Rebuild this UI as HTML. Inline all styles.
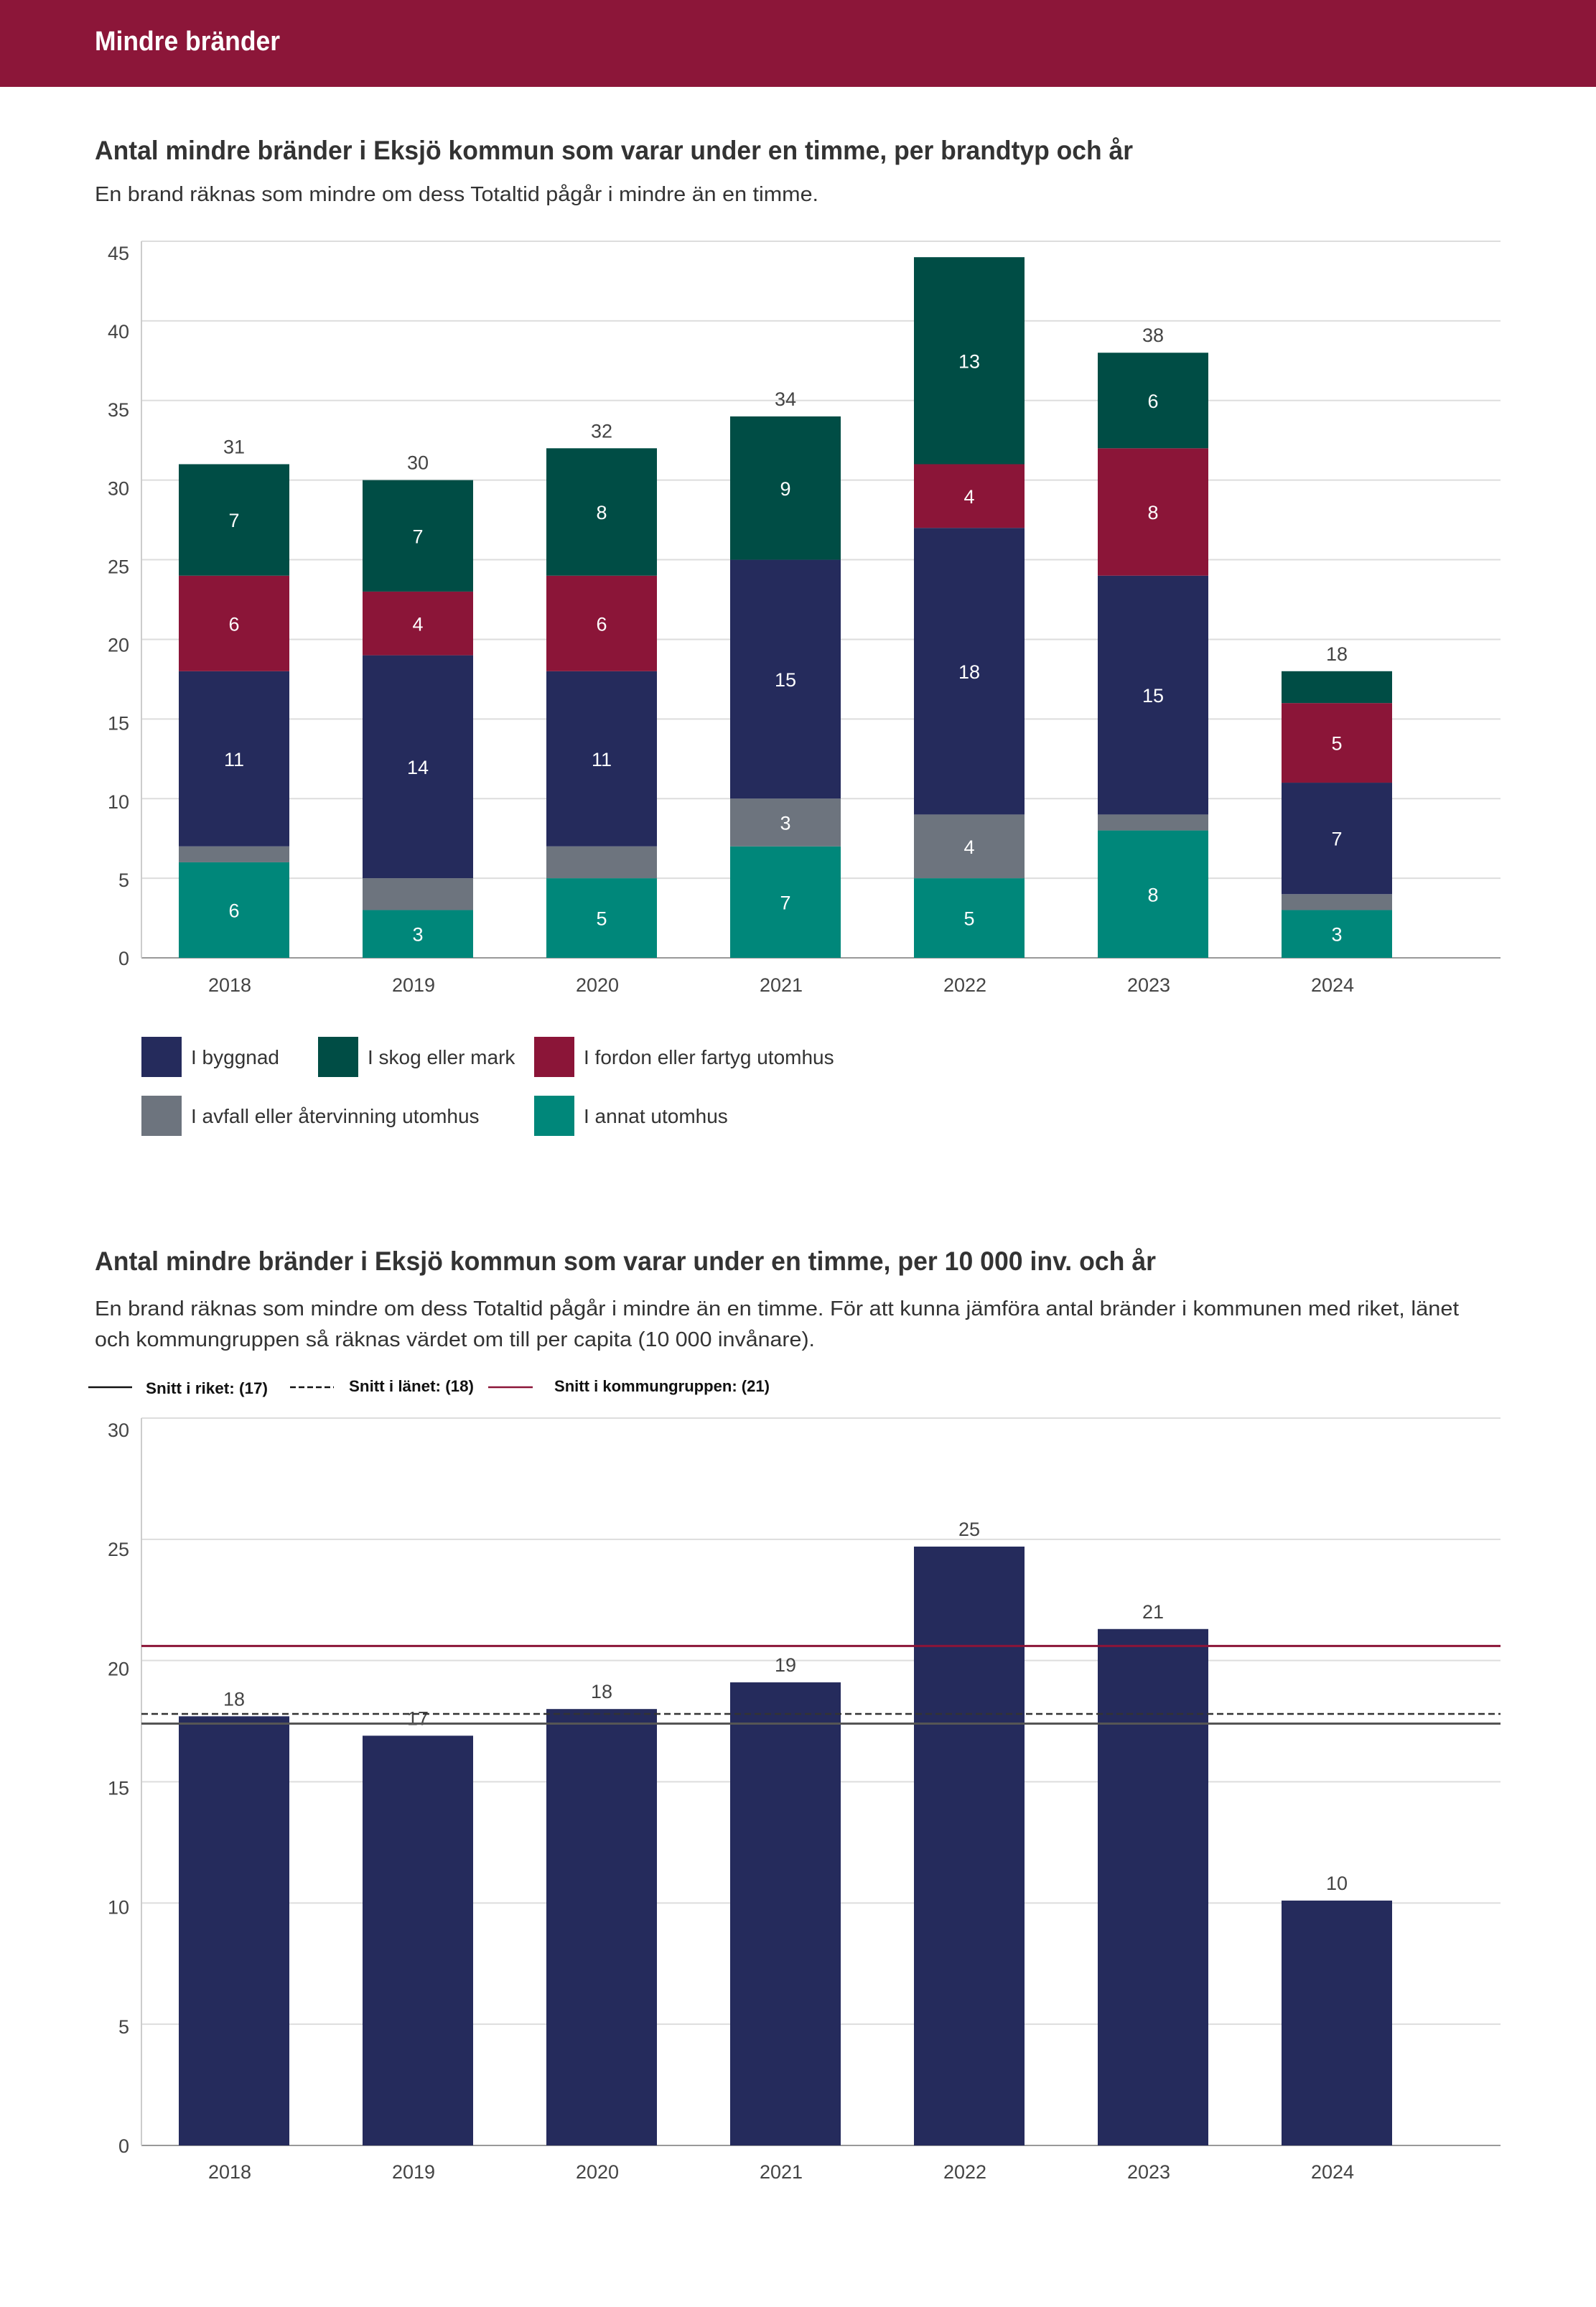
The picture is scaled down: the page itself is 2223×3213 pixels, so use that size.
<!DOCTYPE html>
<html><head><meta charset="utf-8">
<style>
html,body{margin:0;padding:0;background:#fff;}
svg{display:block;font-family:"Liberation Sans",sans-serif;}
</style></head>
<body>
<svg id="page" width="2223" height="3213" viewBox="0 0 2223 3213" xmlns="http://www.w3.org/2000/svg">
  <rect x="0" y="0" width="2223" height="121" fill="#8c1639"/>
  <text x="132" y="70" font-size="38" font-weight="bold" fill="#fff" textLength="258" lengthAdjust="spacingAndGlyphs">Mindre bränder</text>

  <text x="132" y="222" font-size="37" fill="#333" font-weight="bold" textLength="1446" lengthAdjust="spacingAndGlyphs">Antal mindre bränder i Eksjö kommun som varar under en timme, per brandtyp och år</text>
  <text x="132" y="280" font-size="29" fill="#333" textLength="1008" lengthAdjust="spacingAndGlyphs">En brand räknas som mindre om dess Totaltid pågår i mindre än en timme.</text>
  <g id="chart1"></g>
  <g id="legend1"></g>

  <text x="132" y="1769" font-size="37" fill="#333" font-weight="bold" textLength="1478" lengthAdjust="spacingAndGlyphs">Antal mindre bränder i Eksjö kommun som varar under en timme, per 10 000 inv. och år</text>
  <text x="132" y="1832" font-size="29" fill="#333" textLength="1900" lengthAdjust="spacingAndGlyphs">En brand räknas som mindre om dess Totaltid pågår i mindre än en timme. För att kunna jämföra antal bränder i kommunen med riket, länet</text>
  <text x="132" y="1875" font-size="29" fill="#333" textLength="1003" lengthAdjust="spacingAndGlyphs">och kommungruppen så räknas värdet om till per capita (10 000 invånare).</text>
  <g>
    <line x1="123" y1="1932" x2="184" y2="1932" stroke="#111" stroke-width="2.5"/>
    <text x="203" y="1941" font-size="22" font-weight="bold" fill="#111" textLength="170" lengthAdjust="spacingAndGlyphs">Snitt i riket: (17)</text>
    <line x1="404" y1="1932" x2="465" y2="1932" stroke="#111" stroke-width="2.5" stroke-dasharray="8,4"/>
    <text x="486" y="1938" font-size="22" font-weight="bold" fill="#111" textLength="174" lengthAdjust="spacingAndGlyphs">Snitt i länet: (18)</text>
    <line x1="680" y1="1932" x2="742" y2="1932" stroke="#8b1538" stroke-width="2.5"/>
    <text x="772" y="1938" font-size="22" font-weight="bold" fill="#111" textLength="300" lengthAdjust="spacingAndGlyphs">Snitt i kommungruppen: (21)</text>
  </g>
  <g id="chart2"></g>
</svg>
<script>
const NS = "http://www.w3.org/2000/svg";
const years = ["2018","2019","2020","2021","2022","2023","2024"];
const annat = [6,3,5,7,5,8,3];
const avfall = [1,2,2,3,4,1,1];
const byggnad = [11,14,11,15,18,15,7];
const fordon = [6,4,6,0,4,8,5];
const skog = [7,7,8,9,13,6,2];
const ticks1 = [0,5,10,15,20,25,30,35,40,45];
const perCapita = [17.7,16.9,18.0,19.1,24.7,21.3,10.1];
const perCapitaLabels = ["18","17","18","19","25","21","10"];
const ticks2 = [0,5,10,15,20,25,30];
const snittRiket = 17.4;
const snittLanet = 17.8;
const snittKommungrupp = 20.6;

function mk(tag, attrs, parent){
  const e = document.createElementNS(NS, tag);
  for (const k in attrs) e.setAttribute(k, attrs[k]);
  parent.appendChild(e);
  return e;
}
const X0 = 197, X1 = 2090, BAND = 256, BW = 154;
function xc(i){ return X0 + 129 + i*BAND; }

// Chart 1
const c1 = document.getElementById('chart1');
const Y0a = 1334, Ytop = 336, MAXa = 45;
function ya(v){ return Y0a - v*(Y0a-Ytop)/MAXa; }
ticks1.forEach(t=>{
  const l = mk('line',{x1:X0,x2:X1,y1:ya(t),y2:ya(t),stroke:t===0?'#999':'#ddd','stroke-width':2},c1);
  
  
  const tx = mk('text',{x:180,y:ya(t)+10+16*t/MAXa,'font-size':27,fill:'#444','text-anchor':'end'},c1);
  
  
  tx.textContent = t;
});
const ax1 = mk('line',{x1:X0,x2:X0,y1:Ytop,y2:Y0a,stroke:'#ccc','stroke-width':2},c1);


const series = [
  {name:'annat',vals:annat,color:'#00877a'},
  {name:'avfall',vals:avfall,color:'#6d747e'},
  {name:'byggnad',vals:byggnad,color:'#252b5c'},
  {name:'fordon',vals:fordon,color:'#8b1538'},
  {name:'skog',vals:skog,color:'#004d45'}
];
years.forEach((yr,i)=>{
  let base = 0;
  series.forEach(s=>{
    const v = s.vals[i];
    if (v>0){
      const r = mk('rect',{x:xc(i)-BW/2,y:ya(base+v),width:BW,height:ya(base)-ya(base+v),fill:s.color},c1);
      
      
      if (v>=3){
        const t = mk('text',{x:xc(i),y:ya(base+v/2)+10,'font-size':27,fill:'#fff','text-anchor':'middle'},c1);
        
        
        t.textContent = v;
      }
    }
    base += v;
  });
  if (ya(base)-40 > Ytop){
    const t = mk('text',{x:xc(i),y:ya(base)-15,'font-size':27,fill:'#444','text-anchor':'middle'},c1);
    
    
    t.textContent = base;
  }
  const xl = mk('text',{x:xc(i)-6,y:1381,'font-size':27,fill:'#444','text-anchor':'middle'},c1);
  
  
  xl.textContent = yr;
});

// Legend 1
const lg = document.getElementById('legend1');
const legendItems = [
  ['I byggnad','#252b5c',197,1444],['I skog eller mark','#004d45',443,1444],['I fordon eller fartyg utomhus','#8b1538',744,1444],
  ['I avfall eller återvinning utomhus','#6d747e',197,1526],['I annat utomhus','#00877a',744,1526]
];
legendItems.forEach(it=>{
  const sw = mk('rect',{x:it[2],y:it[3],width:56,height:56,fill:it[1]},lg);
  
  
  const t = mk('text',{x:it[2]+69,y:it[3]+38,'font-size':28,fill:'#333'},lg);
  
  
  t.textContent = it[0];
});

// Chart 2
const c2 = document.getElementById('chart2');
const Y0b = 2988, Ytopb = 1975, MAXb = 30;
function yb(v){ return Y0b - v*(Y0b-Ytopb)/MAXb; }
ticks2.forEach(t=>{
  const l = mk('line',{x1:X0,x2:X1,y1:yb(t),y2:yb(t),stroke:t===0?'#999':'#ddd','stroke-width':2},c2);
  
  
  const tx = mk('text',{x:180,y:yb(t)+10+16*t/MAXb,'font-size':27,fill:'#444','text-anchor':'end'},c2);
  
  
  tx.textContent = t;
});
const ax2 = mk('line',{x1:X0,x2:X0,y1:Ytopb,y2:Y0b,stroke:'#ccc','stroke-width':2},c2);


years.forEach((yr,i)=>{
  const v = perCapita[i];
  const r = mk('rect',{x:xc(i)-BW/2,y:yb(v),width:BW,height:Y0b-yb(v),fill:'#252b5c'},c2);
  
  
  const t = mk('text',{x:xc(i),y:yb(v)-15,'font-size':27,fill:'#444','text-anchor':'middle'},c2);
  
  
  t.textContent = perCapitaLabels[i];
  const xl = mk('text',{x:xc(i)-6,y:3034,'font-size':27,fill:'#444','text-anchor':'middle'},c2);
  
  
  xl.textContent = yr;
});
const lr = mk('line',{x1:X0,x2:X1,y1:yb(snittRiket),y2:yb(snittRiket),stroke:'#555','stroke-width':3},c2);


const ll = mk('line',{x1:X0,x2:X1,y1:yb(snittLanet),y2:yb(snittLanet),stroke:'#333','stroke-width':2.5,'stroke-dasharray':'9,5'},c2);


const lk = mk('line',{x1:X0,x2:X1,y1:yb(snittKommungrupp),y2:yb(snittKommungrupp),stroke:'#8b1538','stroke-width':3},c2);


</script>
</body></html>
